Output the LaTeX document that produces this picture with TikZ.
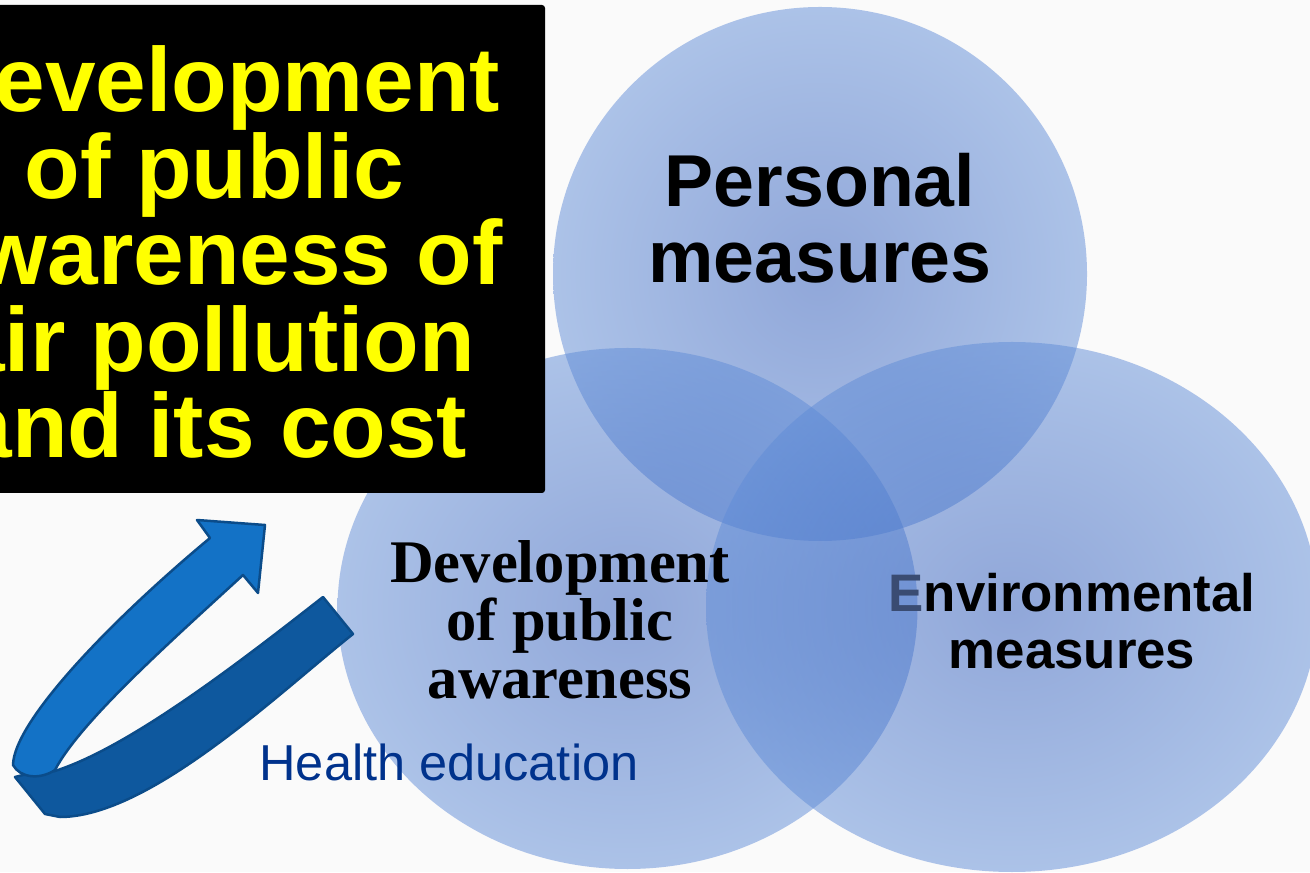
\documentclass[tikz,border=0pt]{standalone}
\usepackage{fontspec}
\newfontfamily\sansf{Liberation Sans}
\newfontfamily\seriff{Liberation Serif}
\definecolor{bg}{RGB}{250,250,250}
\definecolor{vin}{RGB}{40,85,185}
\definecolor{vout}{RGB}{95,140,215}
\definecolor{titley}{RGB}{255,255,0}
\definecolor{armfront}{RGB}{19,114,198}
\definecolor{armback}{RGB}{14,88,158}
\definecolor{armline}{RGB}{11,76,138}
\definecolor{healthblue}{RGB}{0,50,140}
\definecolor{edark}{RGB}{58,76,114}
\begin{document}
\begin{tikzpicture}[x=1bp,y=1bp,
  venn/.style={inner color=vin, outer color=vout, fill opacity=0.5},
  lbl/.style={anchor=base, align=center, inner sep=0pt},
  band/.style={draw=armline, line width=2.5bp, line join=round}]
\useasboundingbox (0,0) rectangle (1310,872);
\clip (0,0) rectangle (1310,872);
\fill[bg] (0,0) rectangle (1310,872);
% Venn circles
\shade[venn] (820,598) circle [radius=267];
\shade[venn] (627.5,263.5) ellipse [x radius=290, y radius=260.5];
\shade[venn] (1012,265) ellipse [x radius=306, y radius=265];
% title box
\fill[black, rounded corners=3bp] (-120,379) rectangle (545,867);
\node[lbl, text=titley, font=\sansf\bfseries\fontsize{91bp}{86.5bp}\selectfont] (title) at (214.5,414)
  {Development\\of public\\awareness of\\air pollution\\and its cost};
% circle labels
\node[lbl, font=\sansf\bfseries\fontsize{73.5bp}{76bp}\selectfont] (pers) at (820,589) {Personal\\measures};
\node[lbl, font=\sansf\bfseries\fontsize{52.8bp}{56bp}\selectfont] (env) at (1072,204) {{\color{edark}E}nvironmental\\measures};
\node[lbl, font=\seriff\bfseries\fontsize{60.5bp}{57.5bp}\selectfont] (dev) at (560,174) {Development\\of public\\awareness};
% ribbon arrow: back band
\path[band, fill=armback] (15,95) .. controls (30,99) and (45,101) .. (55,101)
  .. controls (130,125) and (240,210) .. (323,275) -- (353,238)
  .. controls (280,180) and (150,55) .. (60,55) -- (45,58) -- cycle;
% ribbon arrow: front band
\path[band, fill=armfront] (13,107) .. controls (14,152) and (115,255) .. (210,334)
  -- (197,352) -- (265,347) -- (258,279) -- (243,297)
  .. controls (170,230) and (80,150) .. (55,102)
  .. controls (40,92) and (20,94) .. (13,107) -- cycle;
\node[lbl, text=healthblue, font=\sansf\fontsize{50.5bp}{60bp}\selectfont] (health) at (449,92) {Health education};
\end{tikzpicture}
\end{document}
